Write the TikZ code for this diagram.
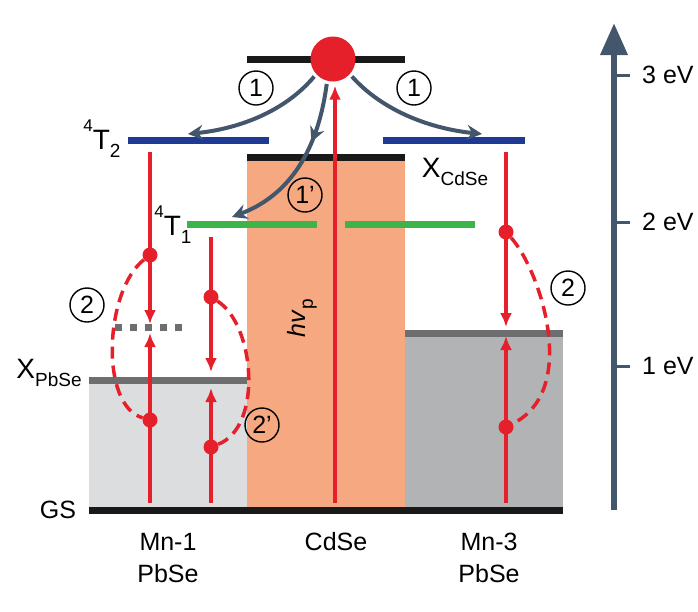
\documentclass[tikz,border=0pt]{standalone}
\usepackage{fontspec}
\setmainfont{Liberation Sans}
\usetikzlibrary{arrows.meta,decorations.markings}
\definecolor{myred}{HTML}{E5202A}
\definecolor{slate}{HTML}{44566B}
\definecolor{cblue}{HTML}{1F3A94}
\definecolor{cgreen}{HTML}{3CB44A}
\definecolor{corange}{HTML}{F6A881}
\definecolor{lgrey}{HTML}{DCDDDF}
\definecolor{mgrey}{HTML}{B2B3B5}
\definecolor{dgrey}{HTML}{6D6E70}
\newcommand\lsub[1]{\raisebox{-0.3em}{\fontsize{19}{19}\selectfont #1}}
\newcommand\lsup[1]{\raisebox{0.62em}{\fontsize{17}{17}\selectfont #1}}
\begin{document}
\begin{tikzpicture}[x=1pt,y=-1pt,
  level/.style={line width=7pt},
  redarr/.style={myred, line width=3.5pt, -{Latex[length=14pt,width=12pt]}},
  reddot/.style={circle, fill=myred, inner sep=0pt, minimum size=15pt},
  reddash/.style={myred, line width=3.5pt, dash pattern=on 12pt off 7pt},
  slatearr/.style={slate, line width=4pt, -{Stealth[length=15pt,width=15pt,inset=5pt]}},
  circnum/.style={circle, draw, line width=1.4pt, inner sep=0pt, minimum size=34pt, font=\fontsize{25}{25}\selectfont},
  lbl/.style={inner sep=0pt, font=\fontsize{25}{28}\selectfont},
  lvl/.style={inner sep=0pt, font=\fontsize{28}{30}\selectfont}]
\useasboundingbox (0,0) rectangle (698,611);
% bands
\fill[corange] (247,157) rectangle (405,508);
\fill[lgrey] (89,380) rectangle (247,508);
\fill[mgrey] (405,333) rectangle (563,508);
\draw[level,dgrey] (89,380) -- (247,380);
\draw[level,dgrey] (405,333) -- (563,333);
\draw[level,dgrey,dash pattern=on 7pt off 8pt] (115,327) -- (186,327);
% levels
\draw[level,black!90] (247,157) -- (405,157);
\draw[level,black!90] (247,59) -- (405,59);
\draw[level,cblue] (128,140.5) -- (269,140.5);
\draw[level,cblue] (383,140.5) -- (525,140.5);
\draw[level,cgreen] (187,224) -- (317,224);
\draw[level,cgreen] (345,224) -- (475,224);
\draw[level,black!90] (89,510.5) -- (563,510.5);
% energy axis
\coordinate (axbot) at (614,510);
\coordinate (axtop) at (614,23);
\draw[slate, line width=6.5pt, -{Triangle[length=32pt,width=26pt]}] (axbot) -- (axtop);
\foreach \yy/\tx in {75/3 eV,222/2 eV,366/1 eV}{
  \draw[slate, line width=3pt] (614,\yy) -- (630,\yy);
  \node[lbl, anchor=west] (ev\yy) at (642,\yy) {\tx};
}
% excited electron
\node[circle, fill=myred, minimum size=45pt, inner sep=0pt] (exc) at (333,59) {};
% pump arrow
\coordinate (hvbot) at (335,503);
\draw[redarr, shorten >=4pt] (hvbot) -- (hvbot |- exc.south);
\node[lbl, rotate=90] (hv) at (302,318) {\textit{hv}\lsub{p}};
% Mn-1 left column
\coordinate (L1top) at (150,152);
\coordinate (L1tip) at (150,324);
\coordinate (L1bot) at (150,503);
\coordinate (L1up) at (150,333);
\draw[redarr] (L1top) -- (L1tip);
\draw[redarr] (L1bot) -- (L1up);
\node[reddot] (L1a) at (150,255) {};
\node[reddot] (L1b) at (150,420) {};
\draw[reddash] (L1a) .. controls (105,290) and (99,405) .. (L1b);
% Mn-1 right column
\coordinate (L2top) at (211,237);
\coordinate (L2tip) at (211,372);
\coordinate (L2bot) at (211,503);
\coordinate (L2up) at (211,388);
\draw[redarr] (L2top) -- (L2tip);
\draw[redarr] (L2bot) -- (L2up);
\node[reddot] (L2a) at (211,297) {};
\node[reddot] (L2b) at (211,447) {};
\draw[reddash] (L2a) .. controls (255,325) and (263,427) .. (L2b);
% Mn-3 column
\coordinate (R1top) at (506,152);
\coordinate (R1tip) at (506,327);
\coordinate (R1bot) at (506,503);
\coordinate (R1up) at (506,336);
\draw[redarr] (R1top) -- (R1tip);
\draw[redarr] (R1bot) -- (R1up);
\node[reddot] (R1a) at (506,232) {};
\node[reddot] (R1b) at (506,427) {};
\draw[reddash] (R1a) .. controls (540,270) and (580,390) .. (R1b);
% energy transfer arrows
\coordinate (t2L) at (188,134);
\coordinate (xR) at (482,134);
\coordinate (t1) at (232,217);
\draw[slatearr, shorten <=3pt] (exc.222) .. controls (288,108) and (245,128) .. (t2L);
\draw[slatearr, shorten <=3pt] (exc.-42) .. controls (380,108) and (425,128) .. (xR);
\draw[slatearr, shorten <=3pt,
  postaction={decorate, decoration={markings, mark=at position 0.36 with {\arrow{Stealth[length=15pt,width=15pt,inset=5pt]}}}}]
  (exc.-105) .. controls (318,150) and (290,195) .. (t1);
% circled numbers
\node[circnum] (n1L) at (256,88) {1};
\node[circnum] (n1R) at (414,88) {1};
\node[circnum] (n1p) at (305,195) {1’};
\node[circnum] (n2L) at (87,305) {2};
\node[circnum] (n2R) at (568,288) {2};
\node[circnum] (n2p) at (262,425) {2’};
% level labels
\node[lvl, anchor=base] (T2) at (102,149) {\lsup{4}T\lsub{2}};
\node[lvl, anchor=base] (T1) at (173,235) {\lsup{4}T\lsub{1}};
\node[lvl, anchor=base] (XC) at (455,177) {X\lsub{CdSe}};
\node[lvl, anchor=base] (XP) at (49,378) {X\lsub{PbSe}};
\node[lbl, anchor=base] (GS) at (58,518) {GS};
% material labels
\node[lbl, anchor=base] (m1a) at (168,550) {Mn-1};
\node[lbl, anchor=base] (m1b) at (168,582) {PbSe};
\node[lbl, anchor=base] (cd) at (336,550) {CdSe};
\node[lbl, anchor=base] (m3a) at (489,550) {Mn-3};
\node[lbl, anchor=base] (m3b) at (489,582) {PbSe};
\end{tikzpicture}
\end{document}
